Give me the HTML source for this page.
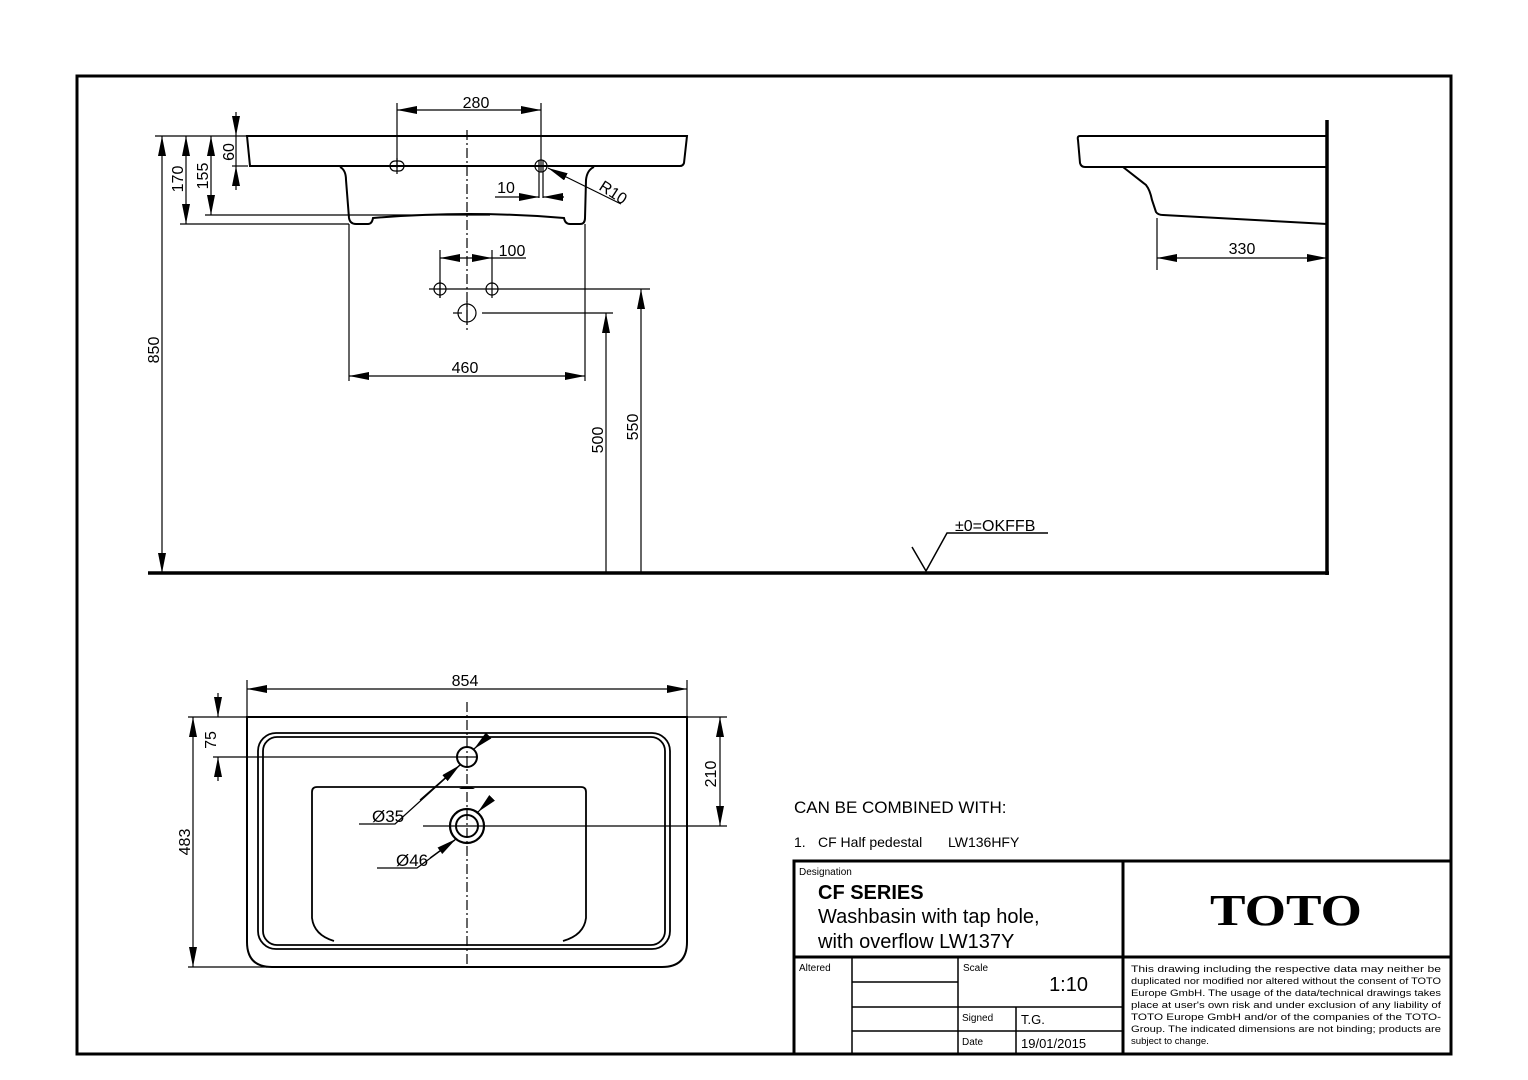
<!DOCTYPE html>
<html><head><meta charset="utf-8">
<style>
html,body{margin:0;padding:0;background:#fff;}
svg{display:block;}
text{font-family:"Liberation Sans",Arial,sans-serif;fill:#000;}
</style></head>
<body>
<svg width="1528" height="1080" viewBox="0 0 1528 1080" xmlns="http://www.w3.org/2000/svg">
<defs>
<marker id="a" viewBox="0 0 20 8" refX="20" refY="4" markerWidth="20" markerHeight="8" markerUnits="userSpaceOnUse" orient="auto-start-reverse">
<path d="M0,0 L20,4 L0,8 z" fill="#000"/></marker>
</defs>
<rect x="77" y="76" width="1374" height="978" fill="none" stroke="#000" stroke-width="3"/>

<g fill="none" stroke="#000" stroke-width="2">
<path d="M247,136 L687,136 L684,163 Q683,166 680,166 L250,166 Z"/>
<path d="M340,167 Q346,170 346,180 L349,218 Q350,224 356,224 L368,224 Q372,224 373,218 Q470,210 564,218 Q565,224 570,224 L580,224 Q585,224 585,218 L586,180 Q587,170 594,167"/>
<path d="M1327,136 L1080,136 Q1077,136 1078,140 L1080,163 Q1081,167 1085,167 L1327,167"/>
<path d="M1123,167 L1146,185 Q1150,190 1152,200 L1156,212 Q1158,215 1163,215 L1327,224"/>
<path d="M247,717 L687,717 L687,942 Q687,967 662,967 L272,967 Q247,967 247,942 Z"/>
<rect x="258" y="733" width="412" height="216" rx="18" stroke-width="1.8"/>
<rect x="263" y="737" width="402" height="208" rx="14" stroke-width="1.8"/>
<path d="M334,941 Q314,935 312,918 L312,792 Q312,787 317,787 L581,787 Q586,787 586,792 L586,918 Q584,935 563,941" stroke-width="1.8"/>
<circle cx="467" cy="757" r="10"/>
<circle cx="467" cy="826" r="17" stroke-width="2.2"/>
<circle cx="467" cy="826" r="11"/>
</g>
<path d="M459,789 Q467,784 475,789 Z" fill="#000"/>

<line x1="148" y1="573" x2="1329" y2="573" stroke="#000" stroke-width="3.5"/>
<line x1="1327" y1="120" x2="1327" y2="575" stroke="#000" stroke-width="3.5"/>

<g fill="none" stroke="#000" stroke-width="1.2">
<line x1="467" y1="130" x2="467" y2="330" stroke-dasharray="10,3,2,3"/>
<line x1="467" y1="702" x2="467" y2="966" stroke-dasharray="10,3,2,3"/>
<line x1="155" y1="136" x2="247" y2="136"/>
<line x1="180" y1="224" x2="349" y2="224"/>
<line x1="205" y1="215" x2="490" y2="215"/>
<line x1="232" y1="166" x2="248" y2="166"/>
<line x1="397" y1="103" x2="397" y2="168"/>
<line x1="541" y1="103" x2="541" y2="172"/>
<line x1="539" y1="160" x2="539" y2="198"/>
<line x1="543" y1="160" x2="543" y2="198"/>
<line x1="440" y1="250" x2="440" y2="298"/>
<line x1="492" y1="250" x2="492" y2="298"/>
<line x1="349" y1="224" x2="349" y2="381"/>
<line x1="585" y1="224" x2="585" y2="381"/>
<line x1="429" y1="289" x2="650" y2="289"/>
<line x1="453" y1="313" x2="462" y2="313"/>
<line x1="482" y1="313" x2="613" y2="313"/>
<circle cx="440" cy="289" r="6"/>
<circle cx="492" cy="289" r="6"/>
<circle cx="467" cy="313" r="9"/>
<line x1="440" y1="280" x2="440" y2="298"/>
<line x1="467" y1="301" x2="467" y2="325"/>
<rect x="390" y="161" width="14" height="10" rx="5"/>
<line x1="397" y1="158" x2="397" y2="174"/><line x1="388" y1="166" x2="406" y2="166"/>
<circle cx="541" cy="166" r="6"/>
<line x1="532" y1="166" x2="550" y2="166"/>
<line x1="162" y1="136" x2="162" y2="573" marker-start="url(#a)" marker-end="url(#a)"/>
<line x1="186" y1="136" x2="186" y2="224" marker-start="url(#a)" marker-end="url(#a)"/>
<line x1="211" y1="136" x2="211" y2="215" marker-start="url(#a)" marker-end="url(#a)"/>
<line x1="236" y1="112" x2="236" y2="136" marker-end="url(#a)"/>
<line x1="236" y1="190" x2="236" y2="166" marker-end="url(#a)"/>
<line x1="236" y1="136" x2="236" y2="166"/>
<line x1="397" y1="110" x2="541" y2="110" marker-start="url(#a)" marker-end="url(#a)"/>
<line x1="495" y1="197" x2="539" y2="197" marker-end="url(#a)"/>
<line x1="564" y1="197" x2="543" y2="197" marker-end="url(#a)"/>
<line x1="621" y1="204" x2="548" y2="168" marker-end="url(#a)"/>
<line x1="440" y1="258" x2="492" y2="258" marker-start="url(#a)" marker-end="url(#a)"/>
<line x1="492" y1="258" x2="526" y2="258"/>
<line x1="349" y1="376" x2="585" y2="376" marker-start="url(#a)" marker-end="url(#a)"/>
<line x1="606" y1="573" x2="606" y2="313" marker-end="url(#a)"/>
<line x1="641" y1="573" x2="641" y2="289" marker-end="url(#a)"/>
<line x1="1157" y1="218" x2="1157" y2="270"/>
<line x1="1157" y1="258" x2="1327" y2="258" marker-start="url(#a)" marker-end="url(#a)"/>
<polyline points="912,547 926,571 947,533 1048,533" stroke-width="1.5"/>
<line x1="247" y1="680" x2="247" y2="717"/>
<line x1="687" y1="680" x2="687" y2="717"/>
<line x1="247" y1="689" x2="687" y2="689" marker-start="url(#a)" marker-end="url(#a)"/>
<line x1="188" y1="717" x2="727" y2="717"/>
<line x1="188" y1="967" x2="267" y2="967"/>
<line x1="193" y1="717" x2="193" y2="967" marker-start="url(#a)" marker-end="url(#a)"/>
<line x1="218" y1="693" x2="218" y2="717" marker-end="url(#a)"/>
<line x1="218" y1="781" x2="218" y2="757" marker-end="url(#a)"/>
<line x1="213" y1="757" x2="478" y2="757"/>
<line x1="423" y1="826" x2="727" y2="826"/>
<line x1="720" y1="717" x2="720" y2="826" marker-start="url(#a)" marker-end="url(#a)"/>
<polyline points="359,824 395,824 460,765"/>
<line x1="420" y1="800" x2="460" y2="765" marker-end="url(#a)"/>
<line x1="488" y1="736" x2="474" y2="749" marker-end="url(#a)"/>
<polyline points="377,868 417,868 455,840"/>
<line x1="430" y1="858" x2="456" y2="839" marker-end="url(#a)"/>
<line x1="490" y1="800" x2="478" y2="812" marker-end="url(#a)"/>
</g>

<g font-size="16">
<text x="476" y="108" text-anchor="middle">280</text>
<text x="506" y="193" text-anchor="middle">10</text>
<text x="598" y="189" transform="rotate(33 598 189)">R10</text>
<text x="512" y="256" text-anchor="middle">100</text>
<text x="465" y="373" text-anchor="middle">460</text>
<text x="1242" y="254" text-anchor="middle">330</text>
<text x="465" y="686" text-anchor="middle">854</text>
<text x="955" y="531">±0=OKFFB</text>
<text x="372" y="822" font-size="17">Ø35</text>
<text x="396" y="866" font-size="17">Ø46</text>
<text transform="translate(159 350) rotate(-90)" text-anchor="middle">850</text>
<text transform="translate(183 179) rotate(-90)" text-anchor="middle">170</text>
<text transform="translate(208 176) rotate(-90)" text-anchor="middle">155</text>
<text transform="translate(234 152) rotate(-90)" text-anchor="middle">60</text>
<text transform="translate(603 440) rotate(-90)" text-anchor="middle">500</text>
<text transform="translate(638 427) rotate(-90)" text-anchor="middle">550</text>
<text transform="translate(190 842) rotate(-90)" text-anchor="middle">483</text>
<text transform="translate(216 740) rotate(-90)" text-anchor="middle">75</text>
<text transform="translate(716 774) rotate(-90)" text-anchor="middle">210</text>
</g>

<text x="794" y="813" font-size="17">CAN BE COMBINED WITH:</text>
<text x="794" y="847" font-size="14">1.</text>
<text x="818" y="847" font-size="14">CF Half pedestal</text>
<text x="948" y="847" font-size="14">LW136HFY</text>
<g fill="none" stroke="#000">
<rect x="794" y="861" width="657" height="193" stroke-width="3"/>
<line x1="1123" y1="861" x2="1123" y2="1054" stroke-width="3"/>
<line x1="794" y1="957" x2="1451" y2="957" stroke-width="3"/>
<line x1="852" y1="957" x2="852" y2="1054" stroke-width="1.5"/>
<line x1="958" y1="957" x2="958" y2="1054" stroke-width="1.5"/>
<line x1="1016" y1="1007" x2="1016" y2="1054" stroke-width="1.5"/>
<line x1="852" y1="982" x2="958" y2="982" stroke-width="1.5"/>
<line x1="852" y1="1007" x2="1123" y2="1007" stroke-width="1.5"/>
<line x1="852" y1="1031" x2="1123" y2="1031" stroke-width="1.5"/>
</g>
<text x="799" y="875" font-size="10">Designation</text>
<text x="818" y="899" font-size="20" font-weight="bold">CF SERIES</text>
<text x="818" y="923" font-size="20">Washbasin with tap hole,</text>
<text x="818" y="948" font-size="20">with overflow LW137Y</text>
<text x="1210" y="925" font-size="44" font-weight="bold" textLength="152" lengthAdjust="spacingAndGlyphs" style="font-family:'Liberation Serif',serif">TOTO</text>
<text x="799" y="971" font-size="10">Altered</text>
<text x="963" y="971" font-size="10">Scale</text>
<text x="1088" y="991" font-size="20" text-anchor="end">1:10</text>
<text x="962" y="1021" font-size="10">Signed</text>
<text x="1021" y="1024" font-size="13">T.G.</text>
<text x="962" y="1045" font-size="10">Date</text>
<text x="1021" y="1048" font-size="13">19/01/2015</text>
<g font-size="9.6">
<text x="1131" y="972" textLength="310" lengthAdjust="spacingAndGlyphs">This drawing including the respective data may neither be</text>
<text x="1131" y="984" textLength="310" lengthAdjust="spacingAndGlyphs">duplicated nor modified nor altered without the consent of TOTO</text>
<text x="1131" y="996" textLength="310" lengthAdjust="spacingAndGlyphs">Europe GmbH. The usage of the data/technical drawings takes</text>
<text x="1131" y="1008" textLength="310" lengthAdjust="spacingAndGlyphs">place at user's own risk and under exclusion of any liability of</text>
<text x="1131" y="1020" textLength="310" lengthAdjust="spacingAndGlyphs">TOTO Europe GmbH and/or of the companies of the TOTO-</text>
<text x="1131" y="1032" textLength="310" lengthAdjust="spacingAndGlyphs">Group. The indicated dimensions are not binding; products are</text>
<text x="1131" y="1044">subject to change.</text>
</g>
</svg>
</body></html>
